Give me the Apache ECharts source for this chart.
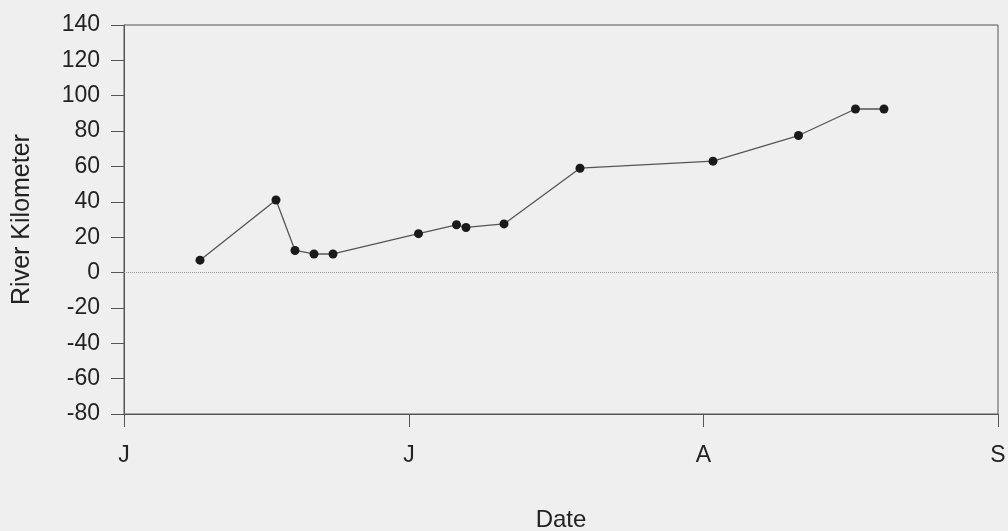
<!DOCTYPE html>
<html>
<head>
<meta charset="utf-8">
<script src="https://cdn.jsdelivr.net/npm/echarts@6/dist/echarts.min.js"></script>
<style>
  html, body { margin: 0; padding: 0; background: #efefef; }
  #chart { width: 1008px; height: 531px; }
</style>
</head>
<body>
<div id="chart"></div>
<script>
// survey dates (month-day) and river kilometer
var dates = ["06-09", "06-17", "06-19", "06-21", "06-23", "07-02", "07-06", "07-07",
             "07-11", "07-19", "08-02", "08-11", "08-17", "08-20"];
var riverKm = [7, 41, 12.5, 10.5, 10.5, 22, 27, 25.5, 27.5, 59, 63, 77.5, 92.5, 92.5];
// month starts shown on the x axis
var monthStarts = ["06-01", "07-01", "08-01", "09-01"];
var monthLabels = ["J", "J", "A", "S"];

// days counted from 1 June
function dayOf(md) {
  var p = md.split("-");
  return (Date.UTC(2001, +p[0] - 1, +p[1]) - Date.UTC(2001, 5, 1)) / 86400000;
}
var tickDays = monthStarts.map(dayOf);
var seriesData = [];
for (var i = 0; i < dates.length; i++) {
  seriesData.push([dayOf(dates[i]), riverKm[i]]);
}

var myChart = echarts.init(document.getElementById("chart"));
var font = "Liberation Sans, Arial, sans-serif";
var option = {
  backgroundColor: "#efefef",
  animation: false,
  grid: {
    left: 124, right: 10, top: 25, bottom: 117,
    containLabel: false,
    outerBoundsMode: "none",
    show: true, borderColor: "#555", borderWidth: 1
  },
  xAxis: {
    type: "value",
    min: tickDays[0],
    max: tickDays[tickDays.length - 1],
    name: "Date",
    nameLocation: "middle",
    nameGap: 94,
    nameTextStyle: { color: "#222", fontSize: 24, fontFamily: font, verticalAlign: "top" },
    axisLine: { onZero: false, lineStyle: { color: "#555", width: 1 } },
    axisTick: { show: true, length: 13, customValues: tickDays, lineStyle: { color: "#555" } },
    axisLabel: {
      customValues: tickDays,
      margin: 30,
      color: "#222", fontSize: 23, fontFamily: font,
      formatter: function (v) {
        var k = tickDays.indexOf(v);
        return k >= 0 ? monthLabels[k] : "";
      }
    },
    splitLine: { show: false }
  },
  yAxis: {
    type: "value",
    min: -80,
    max: 140,
    interval: 20,
    name: "River Kilometer",
    nameLocation: "middle",
    nameGap: 89,
    nameTextStyle: { color: "#222", fontSize: 25, fontFamily: font },
    axisLine: { show: true, onZero: false, lineStyle: { color: "#555", width: 1 } },
    axisTick: { show: true, length: 13, lineStyle: { color: "#555" } },
    axisLabel: { margin: 24, color: "#222", fontSize: 23, fontFamily: font },
    splitLine: { show: false }
  },
  series: [
    {
      type: "line",
      data: seriesData,
      symbol: "circle",
      symbolSize: 9,
      itemStyle: { color: "#1a1a1a" },
      lineStyle: { color: "#555", width: 1.3 },
      markLine: {
        silent: true,
        symbol: "none",
        label: { show: false },
        lineStyle: { color: "#999", type: "dotted", width: 1 },
        data: [{ yAxis: 0 }]
      }
    }
  ]
};
myChart.setOption(option);
</script>
</body>
</html>
